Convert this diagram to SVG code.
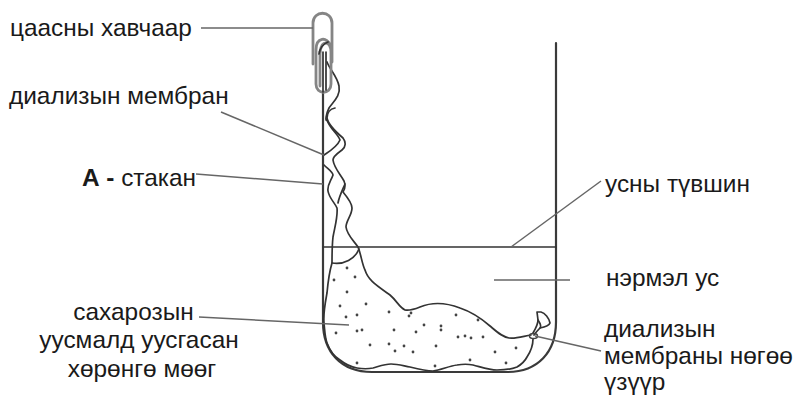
<svg xmlns="http://www.w3.org/2000/svg" width="798" height="396" viewBox="0 0 798 396">
<style>
.t{font-family:"Liberation Sans",Arial,sans-serif;font-size:24.400px;fill:#1a1a1a}
.m{text-anchor:middle}
.l{fill:none;stroke:#666;stroke-width:1.500}
.b{fill:none;stroke:#333;stroke-width:1.700;stroke-linecap:round;stroke-linejoin:round}
.g{fill:none;stroke:#3a3a3a;stroke-width:2.200;stroke-linecap:round}
.c{fill:none;stroke:#858585;stroke-width:2.800;stroke-linecap:round}
.d{fill:#444}
</style>
<rect width="798" height="396" fill="#fff"/>
<g id="beaker">
<path class="g" d="M323 92V322C323 352 341 372 372 372H507C538 372 556 352 556 322V43"/>
<path class="b" d="M323 247H556"/>
</g>
<g id="membrane">
<path class="b" d="M327 62C330 70 337 76 339 86C341 96 333 102 329 108C326 114 325 122 327 120C330 129 338 134 340 140C337 147 330 151 324 155"/>
<path class="b" d="M335 108C330 109 327 113 327 118C328 124 336 132 343 138C346 142 346 147 342 150C338 153 333 156 333 160C334 168 341 175 344 181C346 186 345 189 343 192C348 198 352 203 352 208C352 215 346 221 346 227C347 235 354 241 358 247C361 254 362 264 365 270C368 280 376 285 390 295C397 301 399 307 405 310C410 311 415 309 420 307C432 302 447 303 460 308C472 312 482 319 490 326C497 332 502 337 509 338C516 339 524 336 531 335"/>
<path class="b" d="M324 165C328 169 333 172 333 175C331 181 327 185 328 191C329 198 335 203 337 208C338 216 335 226 333 237C332 246 332 254 332 263C329 273 328 282 327 293C325 304 323 314 324 323C325 333 325 338 327 343C330 351 335 357 340 360C345 364 351 367 357 368C363 369 368 369 373 368C380 366 385 364 391 364C398 364 404 366 410 367C418 369 426 371 433 371C441 370 449 366 457 365C463 364 468 364 473 365C481 367 489 370 497 370C505 370 512 369 517 367C522 364 525 361 527 357C531 351 533 345 533 339"/>
<path class="b" d="M345 184C342 191 339 197 338 203"/>
<path class="b" d="M332 263C344 265 355 259 359 249"/>
<path class="b" d="M533 333C536 328 538 324 538 320L537 312L541 312C545 313 549 318 550 323C549 326 545 327 540 328C538 330 536 332 534 335"/>
<path class="b" d="M538 320C540 323 542 326 540 328"/>
<ellipse cx="533.500" cy="336" rx="4" ry="2.500" fill="none" stroke="#444" stroke-width="1.500"/>
<g class="d">
<circle cx="347" cy="268" r="1.400"/><circle cx="355" cy="277" r="1.400"/><circle cx="334" cy="280" r="1.400"/><circle cx="347" cy="292" r="1.400"/><circle cx="340" cy="306" r="1.400"/><circle cx="366" cy="304" r="1.400"/><circle cx="346" cy="317" r="1.400"/><circle cx="357" cy="315" r="1.400"/><circle cx="336" cy="333" r="1.400"/><circle cx="357" cy="331" r="1.400"/><circle cx="362" cy="330" r="1.400"/><circle cx="370" cy="345" r="1.400"/><circle cx="389" cy="312" r="1.400"/><circle cx="394" cy="330" r="1.400"/><circle cx="389" cy="344" r="1.400"/><circle cx="395" cy="351" r="1.400"/><circle cx="404" cy="346" r="1.400"/><circle cx="413" cy="352" r="1.400"/><circle cx="409" cy="316" r="1.400"/><circle cx="411" cy="313" r="1.400"/><circle cx="416" cy="332" r="1.400"/><circle cx="424" cy="325" r="1.400"/><circle cx="436" cy="346" r="1.400"/><circle cx="441" cy="326" r="1.400"/><circle cx="441" cy="330" r="1.400"/><circle cx="456" cy="315" r="1.400"/><circle cx="458" cy="337" r="1.400"/><circle cx="465" cy="336" r="1.400"/><circle cx="471" cy="338" r="1.400"/><circle cx="478" cy="320" r="1.400"/><circle cx="483" cy="337" r="1.400"/><circle cx="495" cy="352" r="1.400"/><circle cx="516" cy="348" r="1.400"/><circle cx="357" cy="363" r="1.400"/><circle cx="435" cy="366" r="1.400"/><circle cx="470" cy="360" r="1.400"/><circle cx="506" cy="363" r="1.400"/>
</g>
</g>
<g id="clip">
<path class="c" d="M313 64V23C313 10 332 10 332 23V62"/>
<path class="c" d="M320 52C322 39 331 41 331 52V84C331 95 316 95 316 84V50C316 37 327 36 331 46"/>
<path class="c" d="M320 52V86"/>
<path class="b" d="M319 54C320 47 323 44 328 42"/>
<path class="b" d="M323 92V52M326 90V52"/>
</g>
<g id="connectors">
<path class="l" d="M201 28H313"/>
<path class="l" d="M221 112L324 155"/>
<path class="l" d="M196 174L323 184"/>
<path class="l" d="M199 317L349 325"/>
<path class="l" d="M511 247L601 181"/>
<path class="l" d="M494 280H570"/>
<path class="l" d="M535 336L601 351"/>
</g>
<g id="label-clip"><text class="t" x="10" y="36">цаасны хавчаар</text></g>
<g id="label-membrane"><text class="t" x="9" y="104">диализын мембран</text></g>
<g id="label-glass"><text class="t" x="82" y="186" textLength="114"><tspan font-weight="bold">А - </tspan>стакан</text></g>
<g id="label-water-level"><text class="t" x="605" y="192">усны түвшин</text></g>
<g id="label-water"><text class="t" x="606" y="286">нэрмэл ус</text></g>
<g id="label-sucrose">
<text class="t m" x="133.500" y="320">сахарозын</text>
<text class="t m" x="139" y="348">уусмалд уусгасан</text>
<text class="t m" x="142" y="377">хөрөнгө мөөг</text>
</g>
<g id="label-other-end">
<text class="t" x="604" y="337">диализын</text>
<text class="t" x="604" y="364">мембраны нөгөө</text>
<text class="t" x="604" y="390">үзүүр</text>
</g>
</svg>
